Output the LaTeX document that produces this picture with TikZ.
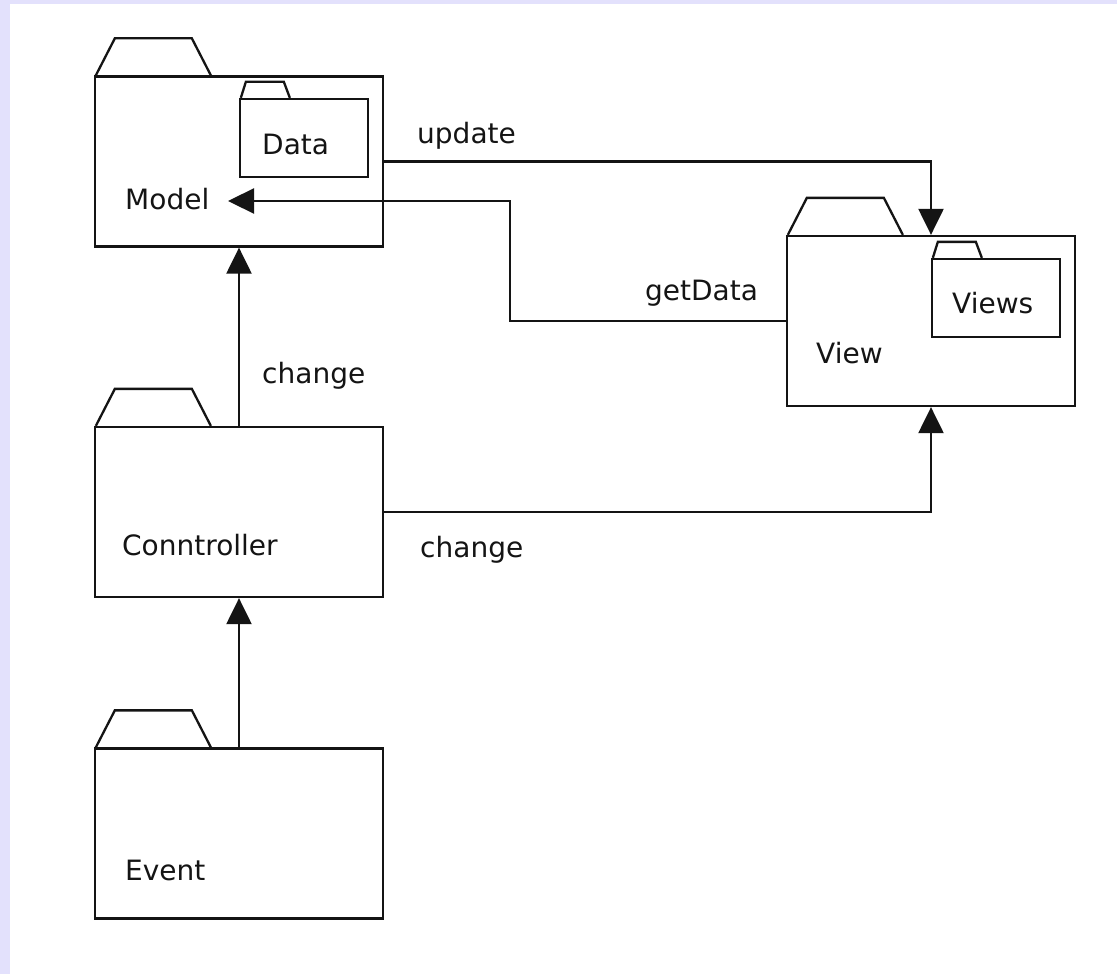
\documentclass[tikz,border=0pt]{standalone}
\usepackage{fontspec}
\setmainfont{DejaVu Sans}
\usetikzlibrary{arrows.meta,calc}
\definecolor{lav}{RGB}{227,225,252}
\definecolor{ink}{RGB}{20,20,20}
\tikzset{
  pkg/.style={draw=ink, line width=2.3pt, rectangle, inner sep=0pt, minimum width=288pt, minimum height=170pt, fill=white},
  subpkg/.style={draw=ink, line width=2.3pt, rectangle, inner sep=0pt, minimum width=128pt, minimum height=78pt, fill=white},
  tabline/.style={draw=ink, line width=2.3pt, line join=miter},
  lbl/.style={anchor=base west, inner sep=0pt, text=ink, font=\fontsize{28}{32}\selectfont},
  conn/.style={draw=ink, line width=2.3pt},
  arr/.style={conn, -{Triangle[length=26pt,width=25pt]}}
}
\begin{document}
\begin{tikzpicture}[x=1pt,y=-1pt]
\useasboundingbox (0,0) rectangle (1117,974);
\fill[lav] (0,0) rectangle (1117,974);
\fill[white] (10,4) rectangle (1117,974);

% packages
\node[pkg] (model) at (239,161.5) {};
\node[pkg] (view) at (931,321) {};
\node[pkg] (ctrl) at (239,512) {};
\node[pkg] (event) at (239,833.5) {};

% big tabs
\foreach \n in {model,view,ctrl,event}
  \draw[tabline] ($(\n.north west)+(2,0)$) -- ++(19,-37) -- ++(77,0) -- ++(19,37);

% sub packages
\node[subpkg] (data) at (304,138) {};
\node[subpkg] (views) at (996,298) {};
\foreach \n in {data,views}
  \draw[tabline] ($(\n.north west)+(2,0)$) -- ++(5,-16) -- ++(38,0) -- ++(6,16);

% package names
\node[lbl] (modeltxt) at (125,209) {Model};
\node[lbl] (datatxt) at (262,154) {Data};
\node[lbl] (viewtxt) at (816,363) {View};
\node[lbl] (viewstxt) at (952,313) {Views};
\node[lbl] (ctrltxt) at (122,555) {Conntroller};
\node[lbl] (eventtxt) at (125,880) {Event};

% connectors
\draw[arr] (model.east) -| (view.north);
\coordinate (gdturn) at (510,201);
\coordinate (gdend) at (228,201);
\draw[arr] (view.west) -| (gdturn) -- (gdend);
\draw[arr] (ctrl.north) -- (model.south);
\draw[arr] (ctrl.east) -| (view.south);
\draw[arr] (event.north) -- (ctrl.south);

% connector labels
\node[lbl] (updlbl) at (417,143) {update};
\node[lbl] (gdlbl) at (645,300) {getData};
\node[lbl] (chg1) at (262,383) {change};
\node[lbl] (chg2) at (420,557) {change};
\end{tikzpicture}
\end{document}
